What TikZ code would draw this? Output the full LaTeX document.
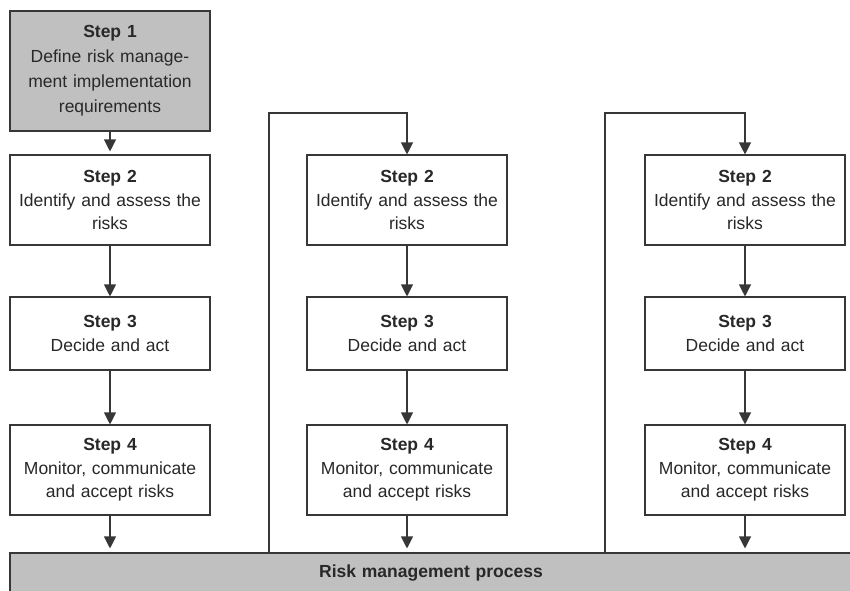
\documentclass[tikz,border=0pt]{standalone}
\usepackage{fontspec}
\setmainfont{Liberation Sans}
\usetikzlibrary{arrows.meta}
\definecolor{boxgray}{RGB}{192,192,192}
\definecolor{edge}{RGB}{55,55,55}
\definecolor{txt}{RGB}{40,40,40}
\tikzset{
  stepbox/.style={draw=edge, line width=1.1pt, fill=white, minimum width=200pt, minimum height=90pt,
    align=center, text width=198pt, inner sep=0pt, font=\fontsize{17.5pt}{23.5pt}\selectfont, text=txt},
  graybox/.style={stepbox, fill=boxgray},
  arr/.style={draw=edge, line width=1.1pt, -{Triangle[width=12pt,length=12pt]}},
  link/.style={draw=edge, line width=1.1pt}
}
\begin{document}
\begin{tikzpicture}[x=1pt,y=-1pt]
\useasboundingbox (0,0) rectangle (850,590);
% column 1
\node[graybox, minimum height=120pt, font=\fontsize{17.5pt}{25pt}\selectfont] (s1) at (110,71) {\textbf{Step 1}\\Define risk manage-\\ment implementation\\requirements};
\node[stepbox] (a2) at (110,200) {\textbf{Step 2}\\Identify and assess the\\risks};
\node[stepbox, minimum height=73pt] (a3) at (110,333.5) {\textbf{Step 3}\\Decide and act};
\node[stepbox] (a4) at (110,470) {\textbf{Step 4}\\Monitor, communicate\\and accept risks};
% column 2
\node[stepbox] (b2) at (407,200) {\textbf{Step 2}\\Identify and assess the\\risks};
\node[stepbox, minimum height=73pt] (b3) at (407,333.5) {\textbf{Step 3}\\Decide and act};
\node[stepbox] (b4) at (407,470) {\textbf{Step 4}\\Monitor, communicate\\and accept risks};
% column 3
\node[stepbox] (c2) at (745,200) {\textbf{Step 2}\\Identify and assess the\\risks};
\node[stepbox, minimum height=73pt] (c3) at (745,333.5) {\textbf{Step 3}\\Decide and act};
\node[stepbox] (c4) at (745,470) {\textbf{Step 4}\\Monitor, communicate\\and accept risks};
% bottom bar
\node[graybox, minimum width=842pt, minimum height=40pt, text width=800pt] (bar) at (431,573) {\textbf{Risk management process}};
% arrows column 1
\draw[arr, shorten >=3pt] (s1) -- (a2);
\draw[arr] (a2) -- (a3);
\draw[arr] (a3) -- (a4);
\draw[arr, shorten >=4pt] (a4) -- (a4 |- bar.north);
% arrows column 2
\draw[arr] (b2) -- (b3);
\draw[arr] (b3) -- (b4);
\draw[arr, shorten >=4pt] (b4) -- (b4 |- bar.north);
% arrows column 3
\draw[arr] (c2) -- (c3);
\draw[arr] (c3) -- (c4);
\draw[arr, shorten >=4pt] (c4) -- (c4 |- bar.north);
% loops
\coordinate (l2) at (269,553);
\coordinate (t2) at (269,113);
\coordinate (l3) at (605,553);
\coordinate (t3) at (605,113);
\draw[arr] (l2) -- (t2) -| (b2.north);
\draw[arr] (l3) -- (t3) -| (c2.north);
\end{tikzpicture}
\end{document}
